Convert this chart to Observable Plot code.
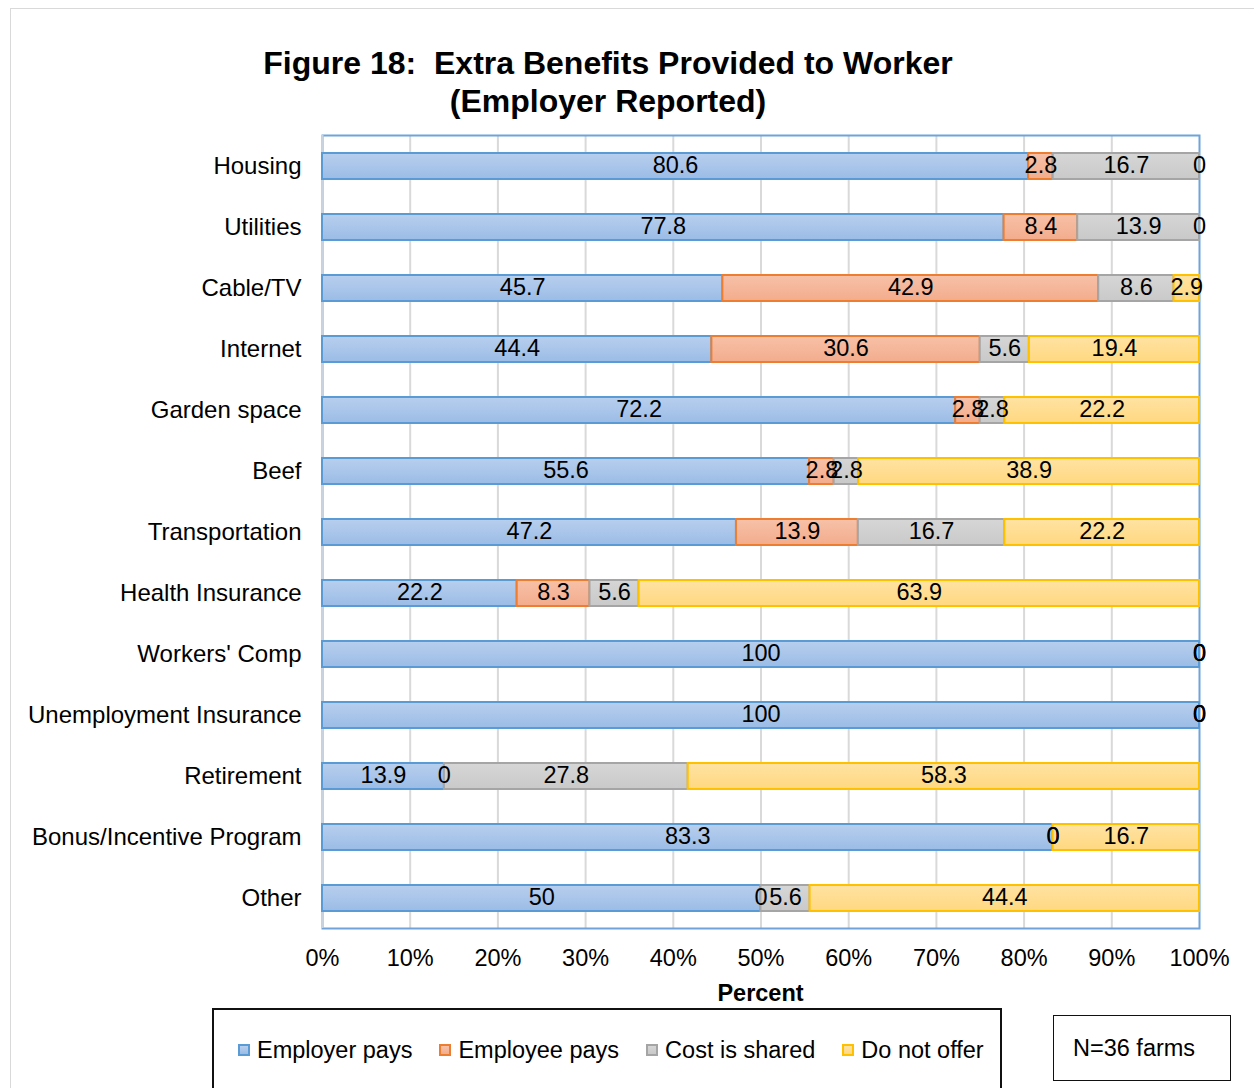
<!DOCTYPE html>
<html>
<head>
<meta charset="utf-8">
<script src="https://cdn.jsdelivr.net/npm/d3@7"></script>
<script src="https://cdn.jsdelivr.net/npm/@observablehq/plot@0.6"></script>
<style>
  html, body { margin: 0; padding: 0; background: #fff; overflow: hidden; }
  body { font-family: "Liberation Sans", Arial, sans-serif; color: #000; }
  #wrap { position: relative; width: 1254px; height: 1088px; overflow: hidden; }
  #frame { position: absolute; left: 10px; top: 8px; width: 1300px; height: 1200px; border: 1.5px solid #d9d9d9; box-sizing: border-box; }
  #title { position: absolute; left: 0; top: 44px; width: 1216px; text-align: center; font-weight: bold; font-size: 32px; line-height: 38px; white-space: pre; }
  #chart { position: absolute; left: 0; top: 0; }
  #xlabel { position: absolute; left: 322px; width: 877px; top: 981px; text-align: center; font-weight: bold; font-size: 23.5px; line-height: 24px; }
  #legend { position: absolute; left: 212px; top: 1008px; width: 790px; height: 120px; border: 2px solid #111; box-sizing: border-box; }
  #legend .items { position: absolute; left: 24px; top: 28px; display: flex; align-items: center; font-size: 23.5px; line-height: 24px; white-space: nowrap; }
  #legend .item { display: flex; align-items: center; margin-right: 27px; }
  #legend .sw { width: 12px; height: 12px; box-sizing: border-box; border: 2px solid; margin-right: 7px; }
  #nbox { position: absolute; left: 1053px; top: 1015px; width: 178px; height: 66px; border: 1.5px solid #111; box-sizing: border-box; font-size: 23.5px; line-height: 24px; }
  #nbox span { position: absolute; left: 19px; top: 20px; }
</style>
</head>
<body>
<div id="wrap">
  <div id="frame"></div>
  <div id="title">Figure 18:  Extra Benefits Provided to Worker
(Employer Reported)</div>
  <div id="chart"></div>
  <div id="xlabel">Percent</div>
  <div id="legend"><div class="items"></div></div>
  <div id="nbox"><span>N=36 farms</span></div>
</div>
<script>
// ---- Data ----
const categories = ["Housing", "Utilities", "Cable/TV", "Internet", "Garden space", "Beef",
  "Transportation", "Health Insurance", "Workers' Comp", "Unemployment Insurance",
  "Retirement", "Bonus/Incentive Program", "Other"];
const seriesNames = ["Employer pays", "Employee pays", "Cost is shared", "Do not offer"];
const employerPays = [80.6, 77.8, 45.7, 44.4, 72.2, 55.6, 47.2, 22.2, 100, 100, 13.9, 83.3, 50];
const employeePays = [2.8, 8.4, 42.9, 30.6, 2.8, 2.8, 13.9, 8.3, 0, 0, 0, 0, 0];
const costShared   = [16.7, 13.9, 8.6, 5.6, 2.8, 2.8, 16.7, 5.6, 0, 0, 27.8, 0, 5.6];
const doNotOffer   = [0, 0, 2.9, 19.4, 22.2, 38.9, 22.2, 63.9, 0, 0, 58.3, 16.7, 44.4];
const xTicks = [0, 0.1, 0.2, 0.3, 0.4, 0.5, 0.6, 0.7, 0.8, 0.9, 1];
const gridTicks = [0.1, 0.2, 0.3, 0.4, 0.5, 0.6, 0.7, 0.8, 0.9];

// ---- Styles ----
const fillTop    = ["#b8cfee", "#f7c1a8", "#d6d6d6", "#ffe3a3"];
const fillBottom = ["#9bbce6", "#f3ac8c", "#c9c9c9", "#ffd880"];
const strokes    = ["#5b9bd5", "#ed7d31", "#a5a5a5", "#ffc000"];
const gradIds = ["g0", "g1", "g2", "g3"];

const seriesValues = [employerPays, employeePays, costShared, doNotOffer];
const rows = [];
categories.forEach((c, i) => {
  seriesNames.forEach((s, j) => {
    rows.push({category: c, series: s, value: seriesValues[j][i], label: String(seriesValues[j][i])});
  });
});

const strokeOf = d => strokes[seriesNames.indexOf(d.series)];

const plot = Plot.plot({
  width: 1254,
  height: 1010,
  marginLeft: 322,
  marginRight: 55,
  marginTop: 135,
  marginBottom: 82,
  style: {fontFamily: "'Liberation Sans', Arial, sans-serif", fontSize: "23.5px", color: "#000", background: "transparent", overflow: "visible"},
  x: {domain: [0, 1]},
  y: {domain: categories, paddingInner: 0.575, paddingOuter: 0.2875},
  color: {domain: seriesNames, range: gradIds.map(id => `url(#${id})`)},
  marks: [
    Plot.ruleX(gridTicks, {stroke: "#d9d9d9", strokeWidth: 2}),
    Plot.frame({stroke: "#6fa3da", strokeWidth: 2}),
    Plot.ruleX([0], {stroke: "#c9d3e0", strokeWidth: 2}),
    Plot.barX(rows, Plot.stackX({offset: "normalize", order: null, x: "value", y: "category", z: "series",
      fill: "series", stroke: strokeOf, strokeWidth: 2})),
    Plot.text(rows, Plot.stackX({offset: "normalize", order: null, x: "value", y: "category", z: "series",
      text: "label", fill: "#000", dy: -1})),
    Plot.axisY({tickSize: 0, tickPadding: 21, label: null, fontSize: 24}),
    Plot.axisX({ticks: xTicks, tickFormat: d3.format(".0%"), tickSize: 0, tickPadding: 21, label: null})
  ]
});

// gradient defs
const svg = d3.select(plot);
const defs = svg.insert("defs", ":first-child");
gradIds.forEach((id, j) => {
  const g = defs.append("linearGradient").attr("id", id).attr("x1", 0).attr("y1", 0).attr("x2", 0).attr("y2", 1);
  g.append("stop").attr("offset", "0%").attr("stop-color", fillTop[j]);
  g.append("stop").attr("offset", "100%").attr("stop-color", fillBottom[j]);
});
document.getElementById("chart").appendChild(plot);

// legend
const items = d3.select("#legend .items");
seriesNames.forEach((s, j) => {
  const it = items.append("div").attr("class", "item");
  it.append("div").attr("class", "sw")
    .style("border-color", strokes[j])
    .style("background", `linear-gradient(${fillTop[j]}, ${fillBottom[j]})`);
  it.append("span").text(s);
});
</script>
</body>
</html>
